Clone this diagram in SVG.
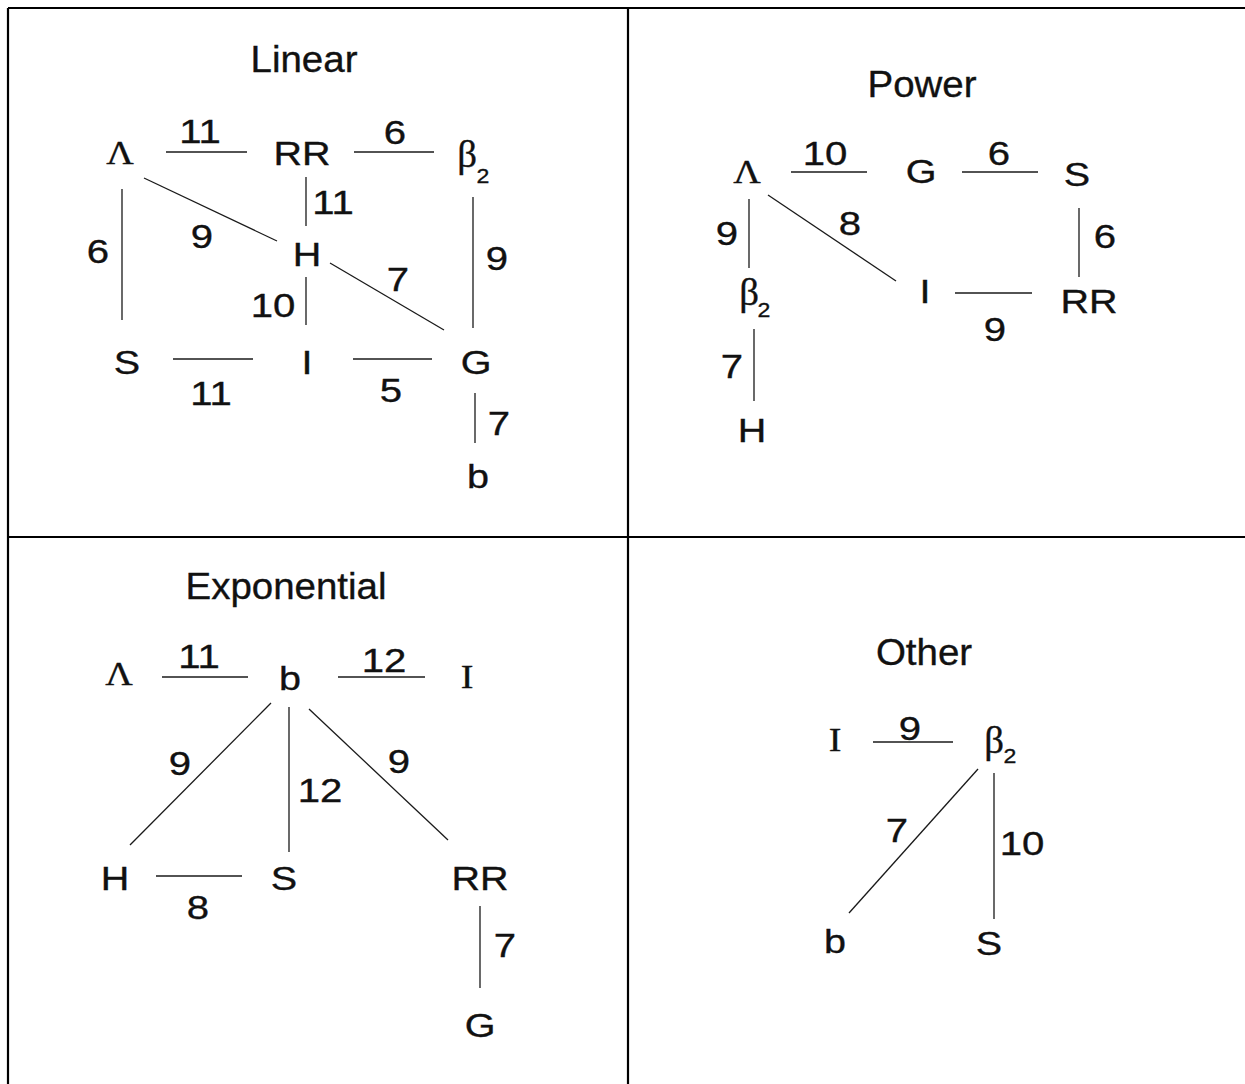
<svg xmlns="http://www.w3.org/2000/svg" width="1245" height="1084" viewBox="0 0 1245 1084">
<style>
text{fill:#111;text-anchor:middle;stroke:#111;stroke-width:0.35}
.t{font-family:"Liberation Sans",Arial,sans-serif;font-size:37px}
.n{font-family:"Liberation Sans",Arial,sans-serif;font-size:33.5px}
.l{font-family:"Liberation Sans",Arial,sans-serif;font-size:34px}
.g{font-family:"Liberation Serif","Times New Roman",serif;font-size:34px}
.b{font-family:"Liberation Serif","Times New Roman",serif;font-size:37px}
.s{font-family:"Liberation Sans",Arial,sans-serif;font-size:21px}
.e line{stroke:#1a1a1a;stroke-width:1.3}
.frame line{stroke:#000;stroke-width:2.2}
</style>
<rect width="1245" height="1084" fill="#fff"/>
<g class="frame">
<line x1="8" y1="8" x2="1245" y2="8"/>
<line x1="8" y1="8" x2="8" y2="1084"/>
<line x1="628" y1="8" x2="628" y2="1084"/>
<line x1="8" y1="537" x2="1245" y2="537"/>
</g>
<g id="titles">
<text class="t" transform="translate(304 72) scale(1.04 1)">Linear</text>
<text class="t" transform="translate(922 97) scale(1.04 1)">Power</text>
<text class="t" transform="translate(286 599) scale(1.04 1)">Exponential</text>
<text class="t" transform="translate(924 665) scale(1.04 1)">Other</text>
</g>
<g class="e" id="connectors">
<line x1="166" y1="152" x2="247" y2="152"/>
<line x1="354" y1="152" x2="434" y2="152"/>
<line x1="144" y1="178" x2="277" y2="241"/>
<line x1="306" y1="177" x2="306" y2="226"/>
<line x1="122" y1="189" x2="122" y2="320"/>
<line x1="473" y1="197" x2="473" y2="328"/>
<line x1="330" y1="263" x2="444" y2="330"/>
<line x1="306" y1="277" x2="306" y2="325"/>
<line x1="173" y1="359" x2="253" y2="359"/>
<line x1="353" y1="359" x2="432" y2="359"/>
<line x1="475" y1="393" x2="475" y2="443"/>
<line x1="791" y1="172" x2="867" y2="172"/>
<line x1="962" y1="172" x2="1038" y2="172"/>
<line x1="768" y1="195" x2="896" y2="281"/>
<line x1="749" y1="199" x2="749" y2="268"/>
<line x1="1079" y1="208" x2="1079" y2="277"/>
<line x1="955" y1="293" x2="1032" y2="293"/>
<line x1="754" y1="329" x2="754" y2="401"/>
<line x1="162" y1="677" x2="248" y2="677"/>
<line x1="338" y1="677" x2="425" y2="677"/>
<line x1="271" y1="703" x2="130" y2="845"/>
<line x1="289" y1="707" x2="289" y2="852"/>
<line x1="309" y1="709" x2="448" y2="840"/>
<line x1="156" y1="876" x2="242" y2="876"/>
<line x1="480" y1="906" x2="480" y2="988"/>
<line x1="873" y1="742" x2="953" y2="742"/>
<line x1="978" y1="769" x2="849" y2="913"/>
<line x1="994" y1="773" x2="994" y2="919"/>
</g>
<g id="edge-labels">
<text class="l" transform="translate(200 143) scale(1.18 1)">11</text>
<text class="l" transform="translate(395 144) scale(1.18 1)">6</text>
<text class="l" transform="translate(333 214) scale(1.18 1)">11</text>
<text class="l" transform="translate(202 248) scale(1.18 1)">9</text>
<text class="l" transform="translate(98 263) scale(1.18 1)">6</text>
<text class="l" transform="translate(497 270) scale(1.18 1)">9</text>
<text class="l" transform="translate(398 291) scale(1.18 1)">7</text>
<text class="l" transform="translate(273 317) scale(1.18 1)">10</text>
<text class="l" transform="translate(211 405) scale(1.18 1)">11</text>
<text class="l" transform="translate(391 402) scale(1.18 1)">5</text>
<text class="l" transform="translate(499 435) scale(1.18 1)">7</text>
<text class="l" transform="translate(825 165) scale(1.18 1)">10</text>
<text class="l" transform="translate(999 165) scale(1.18 1)">6</text>
<text class="l" transform="translate(850 235) scale(1.18 1)">8</text>
<text class="l" transform="translate(727 245) scale(1.18 1)">9</text>
<text class="l" transform="translate(1105 248) scale(1.18 1)">6</text>
<text class="l" transform="translate(995 341) scale(1.18 1)">9</text>
<text class="l" transform="translate(732 378) scale(1.18 1)">7</text>
<text class="l" transform="translate(199 668) scale(1.18 1)">11</text>
<text class="l" transform="translate(384 672) scale(1.18 1)">12</text>
<text class="l" transform="translate(180 775) scale(1.18 1)">9</text>
<text class="l" transform="translate(320 802) scale(1.18 1)">12</text>
<text class="l" transform="translate(399 773) scale(1.18 1)">9</text>
<text class="l" transform="translate(198 919) scale(1.18 1)">8</text>
<text class="l" transform="translate(505 957) scale(1.18 1)">7</text>
<text class="l" transform="translate(910 740) scale(1.18 1)">9</text>
<text class="l" transform="translate(897 842) scale(1.18 1)">7</text>
<text class="l" transform="translate(1022 855) scale(1.18 1)">10</text>
</g>
<g id="linear-Lambda"><text class="g" transform="translate(120 164) scale(1.12 1)">Λ</text></g>
<g id="linear-RR"><text class="n" transform="translate(302 165) scale(1.18 1)">RR</text></g>
<g id="linear-beta2"><text class="b" transform="translate(467 167) scale(1.05 1)">β</text><text class="s" transform="translate(483 183) scale(1.1 1)">2</text></g>
<g id="linear-H"><text class="n" transform="translate(307 266) scale(1.18 1)">H</text></g>
<g id="linear-S"><text class="n" transform="translate(127 374) scale(1.18 1)">S</text></g>
<g id="linear-I"><text class="n" transform="translate(307 374) scale(1.18 1)">I</text></g>
<g id="linear-G"><text class="n" transform="translate(476 374) scale(1.18 1)">G</text></g>
<g id="linear-b"><text class="n" transform="translate(478 488) scale(1.18 1)">b</text></g>
<g id="power-Lambda"><text class="g" transform="translate(747 183) scale(1.12 1)">Λ</text></g>
<g id="power-G"><text class="n" transform="translate(921 183) scale(1.18 1)">G</text></g>
<g id="power-S"><text class="n" transform="translate(1077 186) scale(1.18 1)">S</text></g>
<g id="power-I"><text class="n" transform="translate(925 303) scale(1.18 1)">I</text></g>
<g id="power-RR"><text class="n" transform="translate(1089 313) scale(1.18 1)">RR</text></g>
<g id="power-beta2"><text class="b" transform="translate(749 305) scale(1.05 1)">β</text><text class="s" transform="translate(764 317) scale(1.1 1)">2</text></g>
<g id="power-H"><text class="n" transform="translate(752 442) scale(1.18 1)">H</text></g>
<g id="exp-Lambda"><text class="g" transform="translate(119 685) scale(1.12 1)">Λ</text></g>
<g id="exp-b"><text class="n" transform="translate(290 690) scale(1.18 1)">b</text></g>
<g id="exp-I"><text class="g" transform="translate(467 688) scale(1.12 1)">I</text></g>
<g id="exp-H"><text class="n" transform="translate(115 890) scale(1.18 1)">H</text></g>
<g id="exp-S"><text class="n" transform="translate(284 890) scale(1.18 1)">S</text></g>
<g id="exp-RR"><text class="n" transform="translate(480 890) scale(1.18 1)">RR</text></g>
<g id="exp-G"><text class="n" transform="translate(480 1037) scale(1.18 1)">G</text></g>
<g id="other-I"><text class="g" transform="translate(835 751) scale(1.12 1)">I</text></g>
<g id="other-beta2"><text class="b" transform="translate(994 753) scale(1.05 1)">β</text><text class="s" transform="translate(1010 763) scale(1.1 1)">2</text></g>
<g id="other-b"><text class="n" transform="translate(835 953) scale(1.18 1)">b</text></g>
<g id="other-S"><text class="n" transform="translate(989 955) scale(1.18 1)">S</text></g>
</svg>
